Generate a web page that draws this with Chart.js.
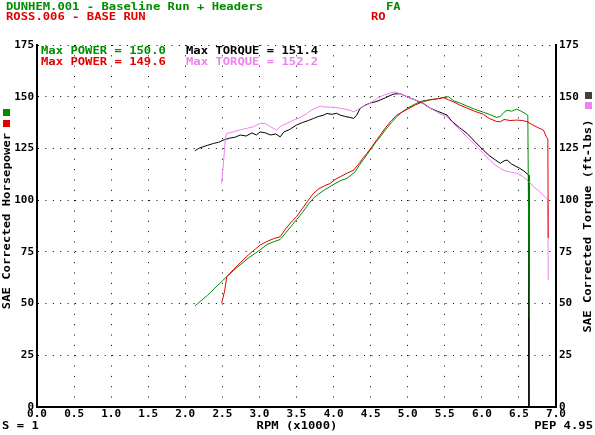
<html>
<head>
	<title>Dyno</title>
	<style>
		body { margin: 0; background: #fff; }
		#wrap { width: 595px; height: 435px; position: relative; }
	</style>
</head>
<body>
	<div id="wrap"><canvas id="dyno"></canvas></div>
	<script src="https://cdn.jsdelivr.net/npm/chart.js"></script>
	<script>
		// DUNHEM.001 power (green)
		var gRpm = [2.13, 2.20, 2.30, 2.40, 2.50, 2.56, 2.65, 2.75, 2.85, 2.95, 3.01, 3.10, 3.20, 3.28, 3.35, 3.42, 3.50, 3.58, 3.66, 3.73, 3.80, 3.88, 3.95, 4.02, 4.10, 4.18, 4.25, 4.29, 4.35, 4.40, 4.45, 4.52, 4.58, 4.63, 4.70, 4.78, 4.85, 4.92, 5.00, 5.10, 5.20, 5.30, 5.40, 5.48, 5.55, 5.62, 5.70, 5.80, 5.90, 6.02, 6.10, 6.20, 6.25, 6.30, 6.34, 6.40, 6.47, 6.53, 6.58, 6.62, 6.63, 6.64];
		var gHp = [48.8, 51, 54, 57.5, 61, 63, 66, 69, 72, 74.5, 76, 78.5, 80, 81, 84, 87, 90.5, 94, 98, 101, 103, 105, 106.5, 108, 109.5, 110.5, 112.5, 113.7, 117, 119.5, 122, 125.5, 128.5, 130.6, 134, 137.5, 140.3, 142.5, 144.5, 146.5, 148, 148.5, 149, 149.5, 150, 148, 147, 145.5, 144, 142.5, 141.5, 140, 140.5, 142.5, 143.5, 143, 144, 143, 142, 141, 90, 43];

		// ROSS.006 power (red)
		var rRpm = [2.49, 2.53, 2.56, 2.65, 2.75, 2.85, 2.95, 3.01, 3.10, 3.20, 3.28, 3.35, 3.42, 3.50, 3.58, 3.66, 3.73, 3.80, 3.88, 3.95, 4.02, 4.10, 4.18, 4.27, 4.35, 4.40, 4.45, 4.52, 4.58, 4.63, 4.70, 4.78, 4.85, 4.92, 5.00, 5.10, 5.20, 5.30, 5.40, 5.48, 5.55, 5.62, 5.70, 5.80, 5.90, 6.02, 6.10, 6.20, 6.25, 6.30, 6.38, 6.47, 6.55, 6.61, 6.69, 6.76, 6.83, 6.87, 6.89, 6.895];
		var rHp = [50.2, 56, 63, 66.5, 70, 73.5, 76.5, 78.3, 80, 81.5, 82.3, 86, 89, 92, 96, 100, 103.3, 105.5, 107, 108, 110, 111.5, 113, 114.5, 118, 120.5, 122.6, 126, 129, 131.5, 135, 138.5, 141, 142.5, 144, 146, 147.5, 148.5, 149, 149.6, 148.5, 147.5, 146, 144.5, 143, 141.5, 139.5, 138, 137.9, 139, 138.5, 138.7, 138.5, 137.9, 136.3, 135, 133.9, 130.6, 129.5, 81.7];

		// DUNHEM.001 torque (black)
		var kRpm = [2.13, 2.18, 2.24, 2.30, 2.38, 2.45, 2.51, 2.60, 2.68, 2.74, 2.82, 2.90, 2.96, 3.01, 3.08, 3.15, 3.22, 3.28, 3.33, 3.40, 3.50, 3.58, 3.66, 3.73, 3.80, 3.86, 3.91, 3.98, 4.04, 4.09, 4.15, 4.22, 4.27, 4.31, 4.36, 4.43, 4.50, 4.56, 4.63, 4.70, 4.76, 4.81, 4.86, 4.90, 4.96, 5.02, 5.10, 5.15, 5.21, 5.30, 5.40, 5.47, 5.53, 5.60, 5.70, 5.80, 5.90, 6.02, 6.10, 6.18, 6.25, 6.30, 6.34, 6.40, 6.45, 6.51, 6.57, 6.63, 6.635];
		var kTq = [123.9, 125, 125.8, 126.5, 127.4, 128, 129, 130, 130.5, 131.5, 131, 132.5, 131.5, 133, 132.5, 131.5, 132, 130.6, 133, 134, 136.3, 137.5, 138.5, 139.5, 140.5, 141, 141.9, 141.5, 142, 141.1, 140.5, 140, 139.5, 141, 144.4, 146, 147, 147.5, 148.4, 149.5, 150.5, 151.3, 151.4, 151.4, 150.5, 149.5, 148.5, 147.5, 146.8, 144.5, 143, 142, 141.1, 138, 135, 132.3, 128.5, 124.2, 121.5, 119.5, 117.8, 119, 119.4, 117.5, 116.5, 115.4, 114, 112.1, 0];

		// ROSS.006 torque (violet)
		var pRpm = [2.49, 2.52, 2.54, 2.56, 2.65, 2.74, 2.83, 2.92, 3.01, 3.08, 3.15, 3.23, 3.30, 3.37, 3.45, 3.52, 3.58, 3.64, 3.70, 3.76, 3.82, 3.88, 3.95, 4.02, 4.09, 4.15, 4.22, 4.27, 4.32, 4.38, 4.45, 4.52, 4.58, 4.63, 4.70, 4.76, 4.81, 4.86, 4.90, 4.96, 5.02, 5.10, 5.17, 5.25, 5.35, 5.45, 5.53, 5.62, 5.70, 5.80, 5.90, 6.02, 6.10, 6.18, 6.25, 6.32, 6.40, 6.47, 6.55, 6.61, 6.70, 6.78, 6.87, 6.89, 6.895];
		var pTq = [108.1, 120, 130, 132.3, 133, 134, 134.7, 135.5, 137.1, 137, 135.5, 133.9, 136, 137.1, 138.5, 139.5, 140.5, 141.9, 143.5, 144.5, 145.5, 145, 145, 144.8, 144.4, 144, 143.5, 142.7, 143.5, 145, 146, 147.5, 149, 150, 151, 151.8, 152.2, 152, 151.3, 150.5, 149.5, 148.5, 147.6, 145.5, 143.5, 141.5, 140.3, 137, 134, 130.6, 127, 122.6, 119.5, 117, 115.4, 114, 113.5, 113, 111.5, 109.7, 106.5, 104.1, 100.9, 100, 61.4];

		var yTicks = [0, 25, 50, 75, 100, 125, 150, 175];
		var xTicks = [0, 0.5, 1, 1.5, 2, 2.5, 3, 3.5, 4, 4.5, 5, 5.5, 6, 6.5, 7];

		const GREEN = '#008c00';
		const RED = '#e00000';
		const VIOLET = '#ee82ee';
		const MONO = '"DejaVu Sans Mono", "Liberation Mono", monospace';

		function pts(xs, ys) {
			return xs.map((x, i) => ({ x: x, y: ys[i] }));
		}

		function txt(ctx, s, x, y, color, align, rot) {
			ctx.save();
			ctx.translate(x, y);
			if (rot) ctx.rotate(-Math.PI / 2);
			ctx.scale(1.22, 1);
			ctx.font = 'bold 10px ' + MONO;
			ctx.fillStyle = color;
			ctx.textAlign = align || 'left';
			ctx.textBaseline = 'middle';
			ctx.fillText(s, 0, 0);
			ctx.restore();
		}

		const labels = {
			id: 'labels',
			afterDraw(chart) {
				const ctx = chart.ctx;
				txt(ctx, 'DUNHEM.001 - Baseline Run + Headers', 6, 7, GREEN);
				txt(ctx, 'FA', 386, 7, GREEN);
				txt(ctx, 'ROSS.006 - BASE RUN', 6, 17.5, RED);
				txt(ctx, 'RO', 371, 17.5, RED);

				txt(ctx, 'Max POWER = 150.0', 41, 51, GREEN);
				txt(ctx, 'Max TORQUE = 151.4', 186, 51, '#000');
				txt(ctx, 'Max POWER = 149.6', 41, 62, RED);
				txt(ctx, 'Max TORQUE = 152.2', 186, 62, VIOLET);

				txt(ctx, 'SAE Corrected Horsepower', 7, 221, '#000', 'center', true);
				txt(ctx, 'SAE Corrected Torque (ft-lbs)', 588.5, 226, '#000', 'center', true);

				txt(ctx, 'S = 1', 2, 426, '#000');
				txt(ctx, 'RPM (x1000)', 297, 426, '#000', 'center');
				txt(ctx, 'PEP 4.95', 593, 426, '#000', 'right');

				ctx.save();
				ctx.fillStyle = GREEN; ctx.fillRect(3, 109, 7, 7);
				ctx.fillStyle = RED; ctx.fillRect(3, 120, 7, 7);
				ctx.fillStyle = '#404040'; ctx.fillRect(585, 92, 7, 7);
				ctx.fillStyle = VIOLET; ctx.fillRect(585, 102, 7, 7);
				ctx.restore();
			}
		};

		const tickFont = { family: MONO, size: 11, weight: 'bold' };
		const line = (label, data, color, axis) => ({
			label: label,
			data: data,
			borderColor: color,
			borderWidth: 1,
			pointRadius: 0,
			tension: 0,
			fill: false,
			yAxisID: axis
		});

		new Chart(document.getElementById('dyno'), {
			type: 'line',
			data: {
				datasets: [
					line('ROSS.006 power', pts(rRpm, rHp), RED, 'y'),
					line('DUNHEM.001 power', pts(gRpm, gHp), GREEN, 'y'),
					line('ROSS.006 torque', pts(pRpm, pTq), VIOLET, 'y2'),
					line('DUNHEM.001 torque', pts(kRpm, kTq), '#000', 'y2')
				]
			},
			options: {
				responsive: true,
				maintainAspectRatio: false,
				animation: false,
				events: [],
				layout: { padding: { top: 45, left: 0, right: 0, bottom: 0 } },
				plugins: { legend: { display: false }, tooltip: { enabled: false } },
				scales: {
					x: {
						type: 'linear',
						min: 0, max: 7,
						afterFit: s => { s.height = 28; },
						afterBuildTicks: s => { s.ticks = xTicks.map(v => ({ value: v })); },
						ticks: { font: tickFont, color: '#000', padding: 1, maxRotation: 0, callback: v => v.toFixed(1) },
						grid: { color: '#000', lineWidth: 1, drawTicks: false },
						border: { display: true, color: '#000', width: 2, dash: [1, 9.34] }
					},
					y: {
						position: 'left',
						min: 0, max: 175,
						afterFit: s => { s.width = 37; },
						afterBuildTicks: s => { s.ticks = yTicks.map(v => ({ value: v })); },
						ticks: { font: tickFont, color: '#000', padding: 3 },
						grid: { color: '#000', lineWidth: 1, drawTicks: false },
						border: { display: true, color: '#000', width: 2, dash: [1, 6.41] }
					},
					y2: {
						position: 'right',
						min: 0, max: 175,
						afterFit: s => { s.width = 39; },
						afterBuildTicks: s => { s.ticks = yTicks.map(v => ({ value: v })); },
						ticks: { font: tickFont, color: '#000', padding: 3 },
						grid: { drawOnChartArea: false, drawTicks: false },
						border: { display: true, color: '#000', width: 2 }
					}
				}
			},
			plugins: [labels]
		});
	</script>
</body>
</html>
